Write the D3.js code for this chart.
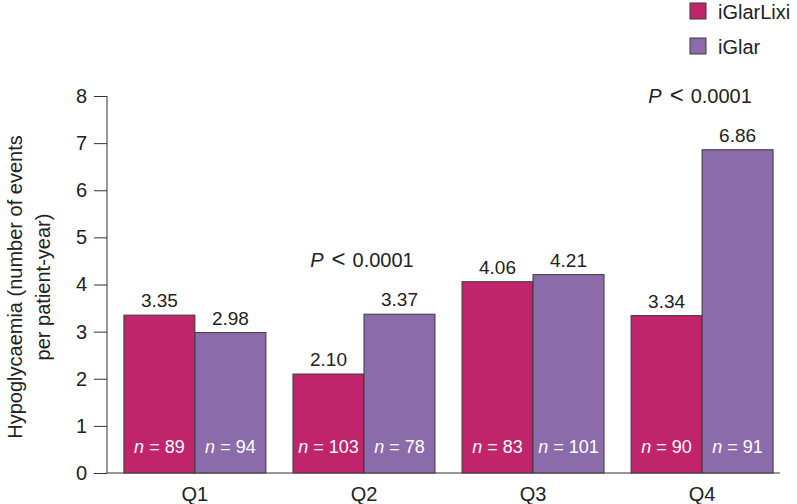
<!DOCTYPE html>
<html><head><meta charset="utf-8">
<script src="https://cdn.jsdelivr.net/npm/d3@7"></script>
<style>body{margin:0;background:#fff;} text{font-family:"Liberation Sans",Arial,sans-serif;}</style>
</head><body>
<svg id="c" width="797" height="504"></svg>
<script>
const categories = ["Q1","Q2","Q3","Q4"];
const seriesNames = ["iGlarLixi","iGlar"];
const iGlarLixi = [3.35, 2.10, 4.06, 3.34];
const iGlar = [2.98, 3.37, 4.21, 6.86];
const nLixi = [89, 103, 83, 90];
const nGlar = [94, 78, 101, 91];
const yTicks = [0,1,2,3,4,5,6,7,8];
const pLabels = ["", "0.0001", "", "0.0001"];
const colors = ["#C0246B","#8C6BAA"];

const svg = d3.select("#c");
const y = d3.scaleLinear().domain([0,8]).range([473,96]);
const x = d3.scaleBand().domain(categories).range([107,790]).paddingInner(0.16).paddingOuter(0.1);
const xs = d3.scaleBand().domain(seriesNames).range([0,x.bandwidth()]);
const FF = "Liberation Sans, Arial, sans-serif";

// y axis
const ya = svg.append("g").attr("transform","translate(107,0)")
  .call(d3.axisLeft(y).tickValues(yTicks).tickSize(13).tickPadding(7).tickFormat(d3.format("d")));
ya.selectAll("text").attr("font-size",20).attr("fill","#222").attr("font-family",FF);
ya.selectAll("line,path").attr("stroke","#333");
ya.select("path").attr("d","M0,96V473");

// x axis
const xa = svg.append("g").attr("transform","translate(0,473)")
  .call(d3.axisBottom(x).tickSize(0).tickPadding(14));
xa.select("path").attr("d","M107,0H780").attr("stroke","#333");
xa.selectAll("text").attr("font-size",20).attr("fill","#222").attr("font-family",FF);

const data = categories.map((c,i)=>({c, vals:[
  {s:seriesNames[0], v:iGlarLixi[i], n:nLixi[i]},
  {s:seriesNames[1], v:iGlar[i], n:nGlar[i]}], p:pLabels[i]}));

const g = svg.selectAll(".grp").data(data).join("g").attr("transform",d=>`translate(${x(d.c)},0)`);
g.selectAll("rect").data(d=>d.vals).join("rect")
  .attr("x",d=>xs(d.s)).attr("width",xs.bandwidth())
  .attr("y",d=>y(d.v)).attr("height",d=>y(0)-y(d.v))
  .attr("fill",(d,i)=>colors[i]).attr("stroke","#3a3a3a").attr("stroke-width",1);
g.selectAll(".val").data(d=>d.vals).join("text").attr("class","val")
  .attr("x",d=>xs(d.s)+xs.bandwidth()/2).attr("y",d=>y(d.v)-8)
  .attr("text-anchor","middle").attr("font-size",19).attr("fill","#222")
  .text(d=>d.v.toFixed(2));
const nt = g.selectAll(".nl").data(d=>d.vals).join("text").attr("class","nl")
  .attr("x",d=>xs(d.s)+xs.bandwidth()/2).attr("y",453)
  .attr("text-anchor","middle").attr("font-size",18).attr("fill","#fff");
nt.append("tspan").attr("font-style","italic").text("n");
nt.append("tspan").text(d=>" = "+d.n);

// P labels
const pt = g.filter(d=>d.p).append("text")
  .attr("x",x.bandwidth()/2 - 2).attr("y",d=>y(d3.max(d.vals,v=>v.v))-47)
  .attr("text-anchor","middle").attr("font-size",20).attr("fill","#222");
pt.append("tspan").attr("font-style","italic").text("P");
pt.append("tspan").attr("dx",8).attr("font-size",24).text("<");
pt.append("tspan").attr("dx",7).text(d=>d.p);

// legend
const lg = svg.selectAll(".lg").data(seriesNames).join("g").attr("transform",(d,i)=>`translate(690,${3+i*35})`);
lg.append("rect").attr("width",16).attr("height",16).attr("fill",(d,i)=>colors[i]).attr("stroke","#3a3a3a");
lg.append("text").attr("x",28).attr("y",15.5).attr("font-size",20).attr("fill","#222").text(d=>d);

// y title
const yt = svg.append("text").attr("transform","translate(0,287) rotate(-90)").attr("text-anchor","middle")
  .attr("font-size",20).attr("fill","#222");
yt.append("tspan").attr("x",0).attr("y",22).text("Hypoglycaemia (number of events");
yt.append("tspan").attr("x",0).attr("y",50).text("per patient-year)");
</script>
</body></html>
